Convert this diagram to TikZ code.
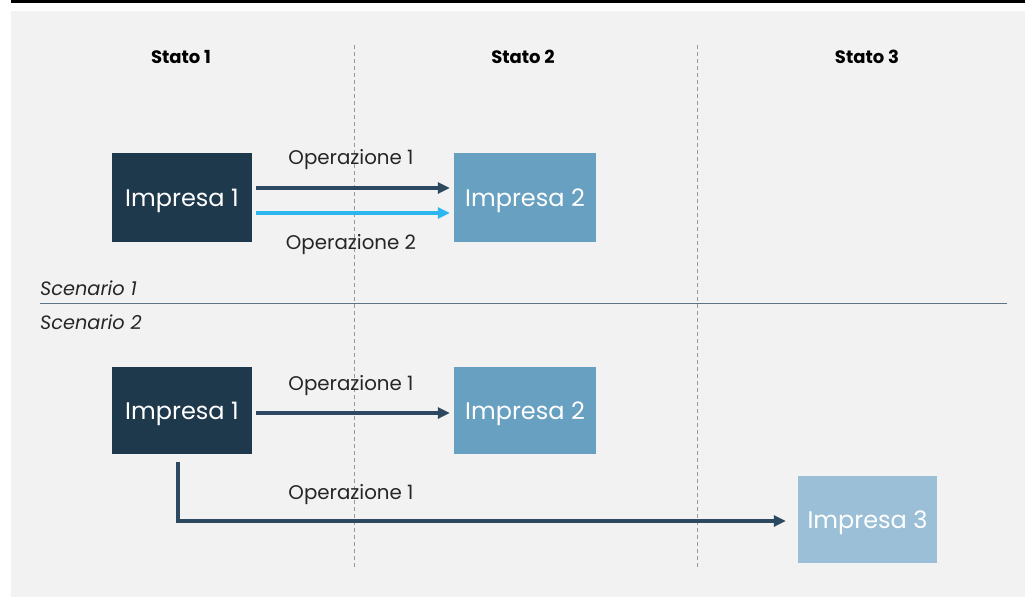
\documentclass[tikz,border=0pt]{standalone}
\usepackage{fontspec}
\setmainfont{Poppins}
\usetikzlibrary{arrows.meta}
\definecolor{bgc}{HTML}{F2F2F2}
\definecolor{navy}{HTML}{1F394C}
\definecolor{midb}{HTML}{67A0C0}
\definecolor{lightb}{HTML}{9BBFD6}
\definecolor{arrd}{HTML}{2D4961}
\definecolor{arrl}{HTML}{2BB6EF}
\definecolor{sep}{HTML}{5E7484}
\definecolor{txt}{HTML}{262626}
\tikzset{
  box/.style={inner sep=0pt, text=white, font=\fontsize{24}{28}\selectfont, text depth=0pt},
  lbl/.style={inner sep=0pt, text=txt, font=\fontsize{19.8}{23}\selectfont},
  hdr/.style={inner sep=0pt, text=black, font=\bfseries\fontsize{18}{21}\selectfont},
  scn/.style={inner sep=0pt, anchor=west, text=txt, font=\itshape\fontsize{19.3}{22}\selectfont},
  darr/.style={draw=arrd, line width=3.5pt, -{Triangle[length=12pt,width=11pt]}},
  larr/.style={draw=arrl, line width=3.5pt, -{Triangle[length=12pt,width=11pt]}},
  vdash/.style={draw=gray!80, line width=0.6pt, dash pattern=on 4pt off 3pt},
}
\begin{document}
\begin{tikzpicture}[x=1pt,y=-1pt]
\useasboundingbox (0,0) rectangle (1025,597);
\fill[white] (0,0) rectangle (1025,597);
\fill[black] (11,0) rectangle (1025,3);
\fill[bgc] (11,11) rectangle (1025,597);
% headers
\node[hdr] (h1) at (181,57) {Stato 1};
\node[hdr] (h2) at (523,57) {Stato 2};
\node[hdr] (h3) at (867,57) {Stato 3};
% dashed column separators
\coordinate (d1t) at (354,45); \coordinate (d1b) at (354,568);
\coordinate (d2t) at (697,45); \coordinate (d2b) at (697,568);
\draw[vdash] (d1t) -- (d1b);
\draw[vdash] (d2t) -- (d2b);
% scenario separator
\coordinate (sl) at (40,303); \coordinate (sr) at (1007,303);
\draw[sep, line width=1pt] (sl) -- (sr);
\node[scn] (s1) at (40,288) {Scenario 1};
\node[scn] (s2) at (40,322) {Scenario 2};
% scenario 1
\node[box, fill=navy, minimum width=140pt, minimum height=89pt] (A1) at (182,197.5) {Impresa 1};
\node[box, fill=midb, minimum width=142pt, minimum height=89pt] (B1) at (525,197.5) {Impresa 2};
\draw[darr] ([xshift=4pt,yshift=9.5pt]A1.east) -- ([xshift=-4pt,yshift=9.5pt]B1.west);
\draw[larr] ([xshift=4pt,yshift=-15.5pt]A1.east) -- ([xshift=-4pt,yshift=-15.5pt]B1.west);
\node[lbl] (o1) at (351,160) {Operazione 1};
\node[lbl] (o2) at (351,245) {Operazione 2};
% scenario 2
\node[box, fill=navy, minimum width=140pt, minimum height=87pt] (A2) at (182,410.5) {Impresa 1};
\node[box, fill=midb, minimum width=142pt, minimum height=87pt] (B2) at (525,410.5) {Impresa 2};
\node[box, fill=lightb, minimum width=139pt, minimum height=87pt] (C2) at (867.5,519.5) {Impresa 3};
\draw[darr] ([xshift=4pt,yshift=-2.5pt]A2.east) -- ([xshift=-4pt,yshift=-2.5pt]B2.west);
\node[lbl] (o3) at (351,386) {Operazione 1};
\draw[darr] ([xshift=-4pt,yshift=-8pt]A2.south) |- ([xshift=-12pt,yshift=-1.5pt]C2.west);
\node[lbl] (o4) at (351,495) {Operazione 1};
\end{tikzpicture}
\end{document}
